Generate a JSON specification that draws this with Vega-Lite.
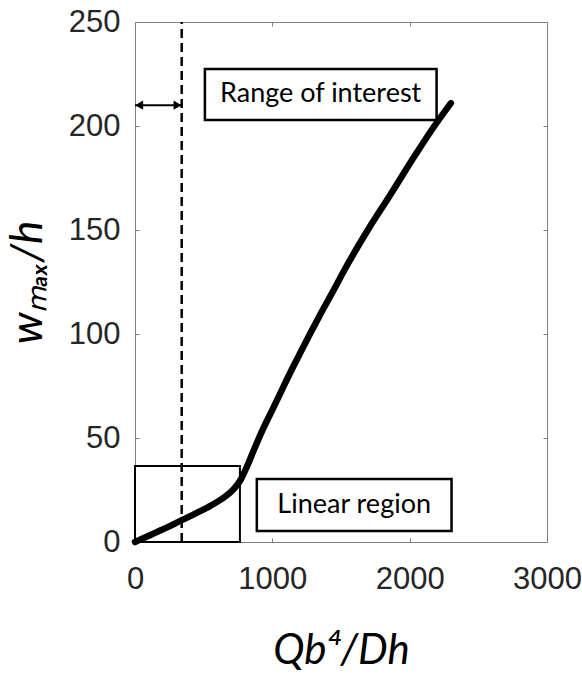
{
  "$schema": "https://vega.github.io/schema/vega-lite/v6.json",
  "width": 412,
  "height": 520,
  "autosize": "none",
  "padding": {"left": 135, "top": 22, "right": 35, "bottom": 139},
  "background": "white",
  "config": {
    "view": {"stroke": "#808080", "strokeWidth": 1},
    "axis": {"grid": false, "domain": false, "tickColor": "#808080", "tickSize": -4, "labelOverlap": false, "labelFlush": false}
  },
  "datasets": {
    "curve": [
      {"x": 0, "y": 0}, {"x": 60, "y": 1.8}, {"x": 150, "y": 4.5}, {"x": 250, "y": 7.5},
      {"x": 340, "y": 10.5}, {"x": 450, "y": 14}, {"x": 560, "y": 17.8}, {"x": 650, "y": 21.5},
      {"x": 720, "y": 25.5}, {"x": 770, "y": 30}, {"x": 820, "y": 37}, {"x": 870, "y": 45},
      {"x": 930, "y": 54}, {"x": 1000, "y": 63.5}, {"x": 1076, "y": 74}, {"x": 1150, "y": 84},
      {"x": 1200, "y": 90.5}, {"x": 1270, "y": 99.5}, {"x": 1350, "y": 109.5}, {"x": 1450, "y": 121.5},
      {"x": 1527, "y": 131}, {"x": 1600, "y": 139.5}, {"x": 1700, "y": 150.5}, {"x": 1855, "y": 166.5},
      {"x": 2050, "y": 187}, {"x": 2180, "y": 200}, {"x": 2300, "y": 211}
    ],
    "boxes": [
      {"x": 509, "x2": 2196, "y": 202.9, "y2": 227.4, "tx": 1352, "ty": 215.2, "label": "Range of interest"},
      {"x": 887, "x2": 2305, "y": 5.3, "y2": 30.3, "tx": 1596, "ty": 17.8, "label": "Linear region"}
    ],
    "region": [{"x": 0, "x2": 764, "y": 0, "y2": 36.5}],
    "vline": [{"x": 340, "y": 0, "y2": 250}],
    "arrow": [{"x": 0, "x2": 340, "y": 210}],
    "heads": [{"x": 30, "y": 210, "dir": "left"}, {"x": 310, "y": 210, "dir": "right"}]
  },
  "layer": [
    {
      "data": {"name": "region"},
      "mark": {"type": "rect", "fill": "transparent", "stroke": "black", "strokeWidth": 2},
      "encoding": {
        "x": {"field": "x", "type": "quantitative", "scale": {"domain": [0, 3000], "nice": false}, "axis": {"orient": "top", "values": [1000, 2000], "labels": false, "title": null}},
        "x2": {"field": "x2"},
        "y": {"field": "y", "type": "quantitative", "scale": {"domain": [0, 250], "nice": false}, "axis": {"orient": "right", "values": [50, 100, 150, 200], "labels": false, "title": null}},
        "y2": {"field": "y2"}
      }
    },
    {
      "data": {"name": "vline"},
      "mark": {"type": "rule", "color": "black", "strokeWidth": 2.5, "strokeDash": [9, 5]},
      "encoding": {
        "x": {"field": "x", "type": "quantitative", "axis": null},
        "y": {"field": "y", "type": "quantitative", "axis": null},
        "y2": {"field": "y2"}
      }
    },
    {
      "data": {"name": "arrow"},
      "mark": {"type": "rule", "color": "black", "strokeWidth": 2},
      "encoding": {
        "x": {"field": "x", "type": "quantitative", "axis": null},
        "x2": {"field": "x2"},
        "y": {"field": "y", "type": "quantitative", "axis": null}
      }
    },
    {
      "data": {"name": "heads"},
      "mark": {"type": "point", "filled": true, "color": "black", "size": 85, "opacity": 1},
      "encoding": {
        "x": {"field": "x", "type": "quantitative", "axis": null},
        "y": {"field": "y", "type": "quantitative", "axis": null},
        "shape": {"field": "dir", "type": "nominal", "scale": {"domain": ["left", "right"], "range": ["triangle-left", "triangle-right"]}, "legend": null}
      }
    },
    {
      "data": {"name": "boxes"},
      "mark": {"type": "rect", "fill": "white", "stroke": "black", "strokeWidth": 2.5},
      "encoding": {
        "x": {"field": "x", "type": "quantitative", "axis": null},
        "x2": {"field": "x2"},
        "y": {"field": "y", "type": "quantitative", "axis": null},
        "y2": {"field": "y2"}
      }
    },
    {
      "data": {"name": "boxes"},
      "mark": {"type": "text", "font": "Lato", "fontSize": 27, "color": "black", "align": "center", "baseline": "middle"},
      "encoding": {
        "x": {"field": "tx", "type": "quantitative", "axis": null},
        "y": {"field": "ty", "type": "quantitative", "axis": null},
        "text": {"field": "label"}
      }
    },
    {
      "data": {"name": "curve"},
      "mark": {"type": "line", "color": "black", "strokeWidth": 6.5, "strokeCap": "round", "strokeJoin": "round", "interpolate": "monotone"},
      "encoding": {
        "x": {"field": "x", "type": "quantitative", "axis": {"orient": "bottom", "values": [0, 1000, 2000, 3000], "format": "d", "labelFont": "Liberation Sans", "labelFontSize": 31, "labelColor": "#262626", "labelPadding": 26, "title": "Qb⁴/Dh", "titleFont": "Lato", "titleFontStyle": "italic", "titleFontWeight": "normal", "titleFontSize": 42, "titleColor": "black", "titlePadding": 36}},
        "y": {"field": "y", "type": "quantitative", "axis": {"orient": "left", "values": [0, 50, 100, 150, 200, 250], "format": "d", "labelFont": "Liberation Sans", "labelFontSize": 31, "labelColor": "#262626", "labelPadding": 19, "title": "wₘₐₓ/h", "titleFont": "Lato", "titleFontStyle": "italic", "titleFontWeight": "normal", "titleFontSize": 44, "titleColor": "black", "titlePadding": 18}}
      }
    }
  ],
  "resolve": {"axis": {"x": "independent", "y": "independent"}}
}
